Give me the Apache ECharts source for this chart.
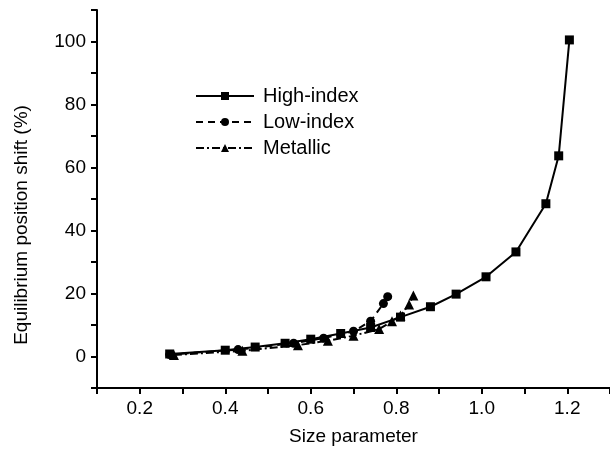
<!DOCTYPE html>
<html>
<head>
<meta charset="utf-8">
<script src="https://cdn.jsdelivr.net/npm/echarts@6/dist/echarts.min.js"></script>
<style>
  html, body { margin: 0; padding: 0; background: #fff; }
  #chart { width: 610px; height: 462px; }
</style>
</head>
<body>
<div id="chart"></div>
<script>
// 读图估计的数据（尺寸参数 vs 平衡位置偏移 %）
const highIndex = [
  [0.27, 0.8], [0.40, 2.0], [0.47, 3.0], [0.54, 4.2], [0.60, 5.5], [0.67, 7.3],
  [0.74, 9.2], [0.81, 12.5], [0.88, 15.8], [0.94, 19.8], [1.01, 25.3],
  [1.08, 33.2], [1.15, 48.5], [1.18, 63.7], [1.205, 100.5]
];
const lowIndex = [
  [0.27, 0.6], [0.43, 2.2], [0.56, 4.2], [0.63, 5.8], [0.70, 8.0],
  [0.74, 11.2], [0.77, 16.8], [0.78, 19.0]
];
const metallic = [
  [0.28, 0.5], [0.44, 1.8], [0.57, 3.6], [0.64, 5.0], [0.70, 6.6],
  [0.76, 8.7], [0.79, 11.2], [0.81, 13.0], [0.83, 16.5], [0.84, 19.4]
];
const xLabels = [0.2, 0.4, 0.6, 0.8, 1.0, 1.2];
const yLabels = [0, 20, 40, 60, 80, 100];

const font = 'Liberation Sans, Arial, sans-serif';
const black = '#000';

const myChart = echarts.init(document.getElementById('chart'));

// 公共坐标轴样式
const axisBase = {
  type: 'value',
  splitLine: { show: false },
  axisLine: { show: true, onZero: false, lineStyle: { color: black, width: 2 } }
};

const option = {
  animation: false,
  backgroundColor: '#fff',
  grid: { left: 97, right: -3, top: 10, bottom: 74 },
  legend: {
    left: 190, top: 81, orient: 'vertical',
    itemWidth: 58, itemHeight: 10, itemGap: 6,
    textStyle: { fontFamily: font, fontSize: 20, color: black, padding: [0, 0, 0, 4] },
    data: ['High-index', 'Low-index', 'Metallic']
  },
  xAxis: Object.assign({}, axisBase, {
    min: 0.1, max: 1.3, interval: 0.1,
    name: 'Size parameter', nameLocation: 'middle', nameGap: 39,
    nameTextStyle: { fontFamily: font, fontSize: 19, color: black },
    axisTick: { show: true, length: 6, lineStyle: { color: black, width: 2 } },
    axisLabel: { customValues: xLabels, margin: 11, fontFamily: font, fontSize: 19, color: black,
      formatter: v => v.toFixed(1) }
  }),
  yAxis: Object.assign({}, axisBase, {
    min: -10, max: 110, interval: 10,
    name: 'Equilibrium position shift (%)', nameLocation: 'middle', nameGap: 66,
    nameTextStyle: { fontFamily: font, fontSize: 19, color: black, padding: [0, 52, 0, 0] },
    axisTick: { show: true, length: 6, lineStyle: { color: black, width: 2 } },
    axisLabel: { customValues: yLabels, margin: 11, fontFamily: font, fontSize: 19, color: black }
  }),
  series: [
    {
      name: 'High-index', type: 'line', data: highIndex,
      symbol: 'rect', symbolSize: 9, color: black,
      lineStyle: { color: black, width: 2, type: 'solid' }
    },
    {
      name: 'Low-index', type: 'line', data: lowIndex,
      symbol: 'circle', symbolSize: 9, color: black,
      lineStyle: { color: black, width: 2, type: [7, 5] }
    },
    {
      name: 'Metallic', type: 'line', data: metallic,
      symbol: 'triangle', symbolSize: 10, color: black,
      lineStyle: { color: black, width: 2, type: [8, 3, 2, 3] }
    }
  ]
};

myChart.setOption(option);
window.addEventListener('resize', () => { myChart.resize(); });
</script>
</body>
</html>
